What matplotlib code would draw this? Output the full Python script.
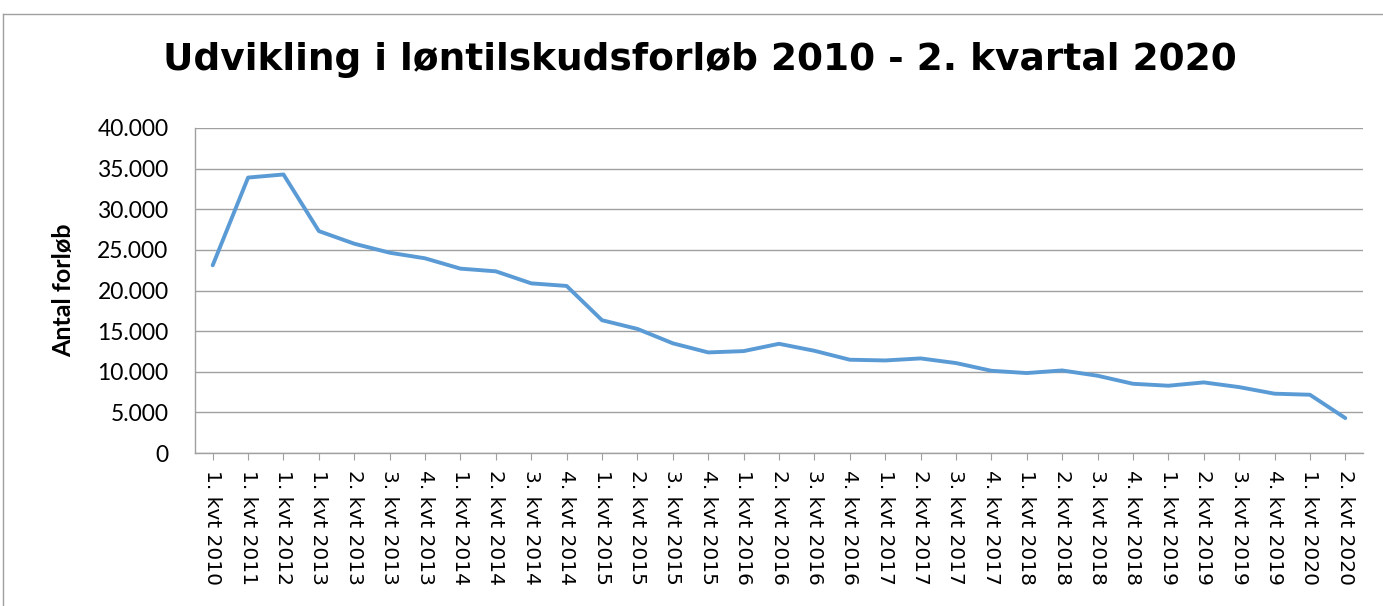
import matplotlib.pyplot as plt
from matplotlib.lines import Line2D
from matplotlib.ticker import FuncFormatter

# kvartaler og antal forløb
kvartaler = ['1. kvt 2010', '1. kvt 2011', '1. kvt 2012', '1. kvt 2013', '2. kvt 2013',
             '3. kvt 2013', '4. kvt 2013', '1. kvt 2014', '2. kvt 2014', '3. kvt 2014',
             '4. kvt 2014', '1. kvt 2015', '2. kvt 2015', '3. kvt 2015', '4. kvt 2015',
             '1. kvt 2016', '2. kvt 2016', '3. kvt 2016', '4. kvt 2016', '1. kvt 2017',
             '2. kvt 2017', '3. kvt 2017', '4. kvt 2017', '1. kvt 2018', '2. kvt 2018',
             '3. kvt 2018', '4. kvt 2018', '1. kvt 2019', '2. kvt 2019', '3. kvt 2019',
             '4. kvt 2019', '1. kvt 2020', '2. kvt 2020']
antal = [23100, 33900, 34280, 27310, 25760, 24650, 23960, 22690, 22360, 20880,
         20560, 16340, 15270, 13500, 12380, 12540, 13440, 12580, 11480, 11390,
         11640, 11070, 10120, 9840, 10160, 9510, 8520, 8280, 8690, 8110,
         7300, 7170, 4300]

fig = plt.figure(figsize=(13.83, 6.06), dpi=100)
ax = fig.add_axes([195 / 1383, 1 - 453 / 606, (1363 - 195) / 1383, (453 - 128) / 606])

x = list(range(len(kvartaler)))
ax.plot(x, antal, color='#5B9BD5', linewidth=2.8, solid_joinstyle='round', solid_capstyle='round')

ax.set_xlim(-0.5, len(kvartaler) - 0.5)
ax.set_ylim(0, 40000)
ax.set_yticks(range(0, 40001, 5000))
ax.yaxis.set_major_formatter(FuncFormatter(lambda v, p: f'{int(v):,}'.replace(',', '.')))
ax.set_xticks(x)
ax.set_xticklabels(kvartaler, rotation=-90, fontsize=14.5)
ax.tick_params(axis='y', length=0, pad=19)
for t in ax.get_yticklabels():
    t.set_fontfamily('Lato')
    t.set_fontsize(16.5)
ax.tick_params(axis='x', length=5, color='#A0A0A0', pad=7)

ax.grid(axis='y', color='#A0A0A0', linewidth=1)
ax.set_axisbelow(True)
for s in ['top', 'right']:
    ax.spines[s].set_visible(False)
for s in ['left', 'bottom']:
    ax.spines[s].set_color('#A0A0A0')
    ax.spines[s].set_linewidth(1)

ax.set_ylabel('Antal forløb', fontsize=18, fontweight='bold', family='Lato')
ax.yaxis.set_label_coords((75 - 195) / (1363 - 195), 0.5)

fig.text((165 + 1235) / 2 / 1383, 1 - 60 / 606, 'Udvikling i løntilskudsforløb 2010 - 2. kvartal 2020',
         ha='center', va='center', fontsize=27, fontweight='bold')

# ramme om diagrammet
fig.add_artist(Line2D([3 / 1383, 1.0], [1 - 14 / 606, 1 - 14 / 606], color='#A0A0A0', linewidth=1))
fig.add_artist(Line2D([3 / 1383, 3 / 1383], [0, 1 - 14 / 606], color='#A0A0A0', linewidth=1))

fig.savefig('out.png', dpi=100)
